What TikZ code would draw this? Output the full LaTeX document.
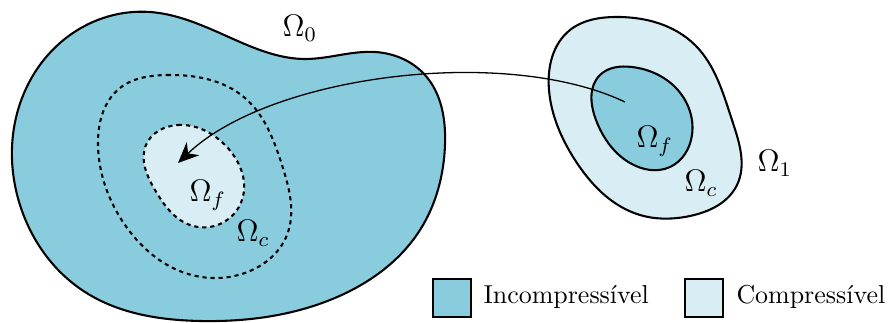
\documentclass[tikz,border=0pt]{standalone}
\usetikzlibrary{arrows.meta,hobby}
\definecolor{incomp}{RGB}{136,204,221}
\definecolor{comp}{RGB}{216,238,244}
\begin{document}
\begin{tikzpicture}[x=0.3855pt,y=-0.3855pt,
  blob/.style={draw=black,line width=0.8pt},
  dashblob/.style={draw=black,line width=0.8pt,dash pattern=on 1.6pt off 1.5pt},
  lbl/.style={font=\fontsize{11.5}{14}\selectfont,inner sep=0pt,anchor=base west},
  legbox/.style={draw=black,line width=0.8pt,minimum width=38*0.3855pt,minimum height=38*0.3855pt,inner sep=0pt},
  legtext/.style={font=\fontsize{10}{12}\selectfont,anchor=base west,inner sep=0pt}]
\useasboundingbox (0,0) rectangle (891,323);
% left domain
\filldraw[blob,fill=incomp,use Hobby shortcut,closed=true]
 (150,12) .. (240,42) .. (305,59) .. (375,52) .. (425,75) .. (445,145) .. (420,230)
 .. (330,300) .. (200,321) .. (85,292) .. (20,205) .. (18,110) .. (70,35);
\draw[dashblob,use Hobby shortcut,closed=true]
 (167,75) .. (245,98) .. (282,165) .. (287,235) .. (250,271) .. (185,273)
 .. (125,225) .. (98,145) .. (120,88);
\filldraw[dashblob,fill=comp,use Hobby shortcut,closed=true]
 (178,125) .. (225,145) .. (242,200) .. (220,224) .. (190,225) .. (155,190)
 .. (146,145);
% right domain
\filldraw[blob,fill=comp,use Hobby shortcut,closed=true]
 (615,17) .. (695,45) .. (732,120) .. (737,185) .. (690,216) .. (640,215)
 .. (575,160) .. (549,90) .. (570,30);
\filldraw[blob,fill=incomp,use Hobby shortcut,closed=true]
 (632,67) .. (676,88) .. (692,135) .. (670,167) .. (630,163) .. (596,120) .. (600,75);
% labels
\node[lbl] (o0) at (282,37) {$\Omega_0$};
\node[lbl] (ofl) at (189,202) {$\Omega_f$};
\node[lbl] (ocl) at (236,242) {$\Omega_c$};
\node[lbl] (ofr) at (636,148) {$\Omega_f$};
\node[lbl] (ocr) at (684,192) {$\Omega_c$};
\node[lbl] (o1) at (757,172) {$\Omega_1$};
% arrow
\coordinate (src) at (625,102);
\coordinate (dst) at (178,163);
\draw[line width=0.5pt,-{Stealth[length=8pt,width=7pt]}] (src) .. controls (505,45) and (270,75) .. (dst);
% legend
\node[legbox,fill=incomp] (b1) at (452,298) {};
\node[legtext] (t1) at (483,304) {Incompressível};
\node[legbox,fill=comp] (b2) at (704,298) {};
\node[legtext] (t2) at (736,304) {Compressível};
\end{tikzpicture}
\end{document}
